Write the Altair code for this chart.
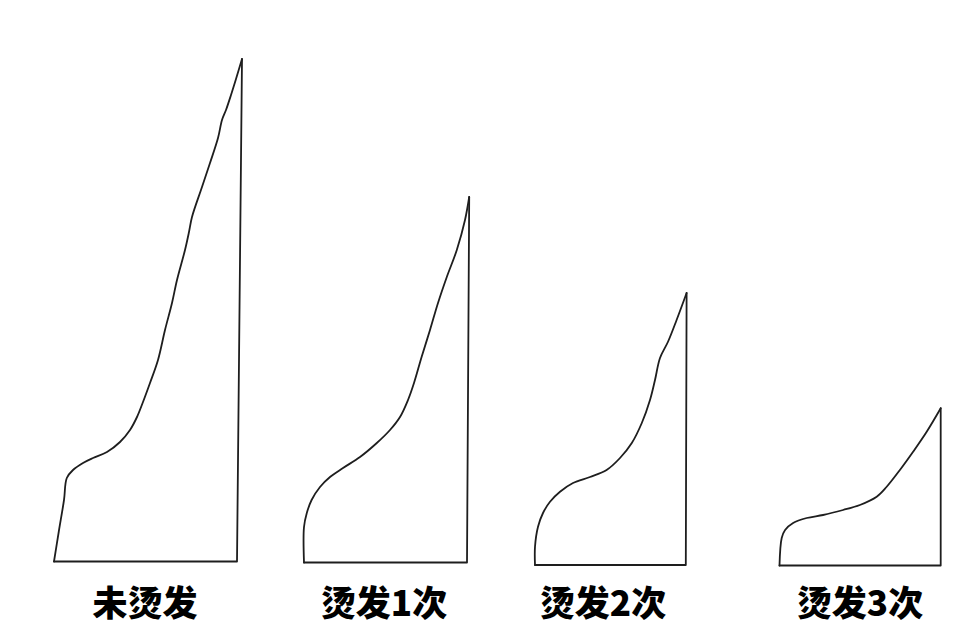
import altair as alt
import pandas as pd

# ---------------- data ----------------
labels = ["未烫发", "烫发1次", "烫发2次", "烫发3次"]

strain_0 = [0, 1.2, 2.5, 3.2, 4.75, 7.25, 9.75, 13.25, 16.5, 19, 20.75, 22.25, 24, 26,
            27.75, 29.5, 30.75, 32.75, 33.75, 34.5, 37, 39, 41, 42, 43, 44.25, 45.5, 47]
stress_0 = [0, 12, 24.6, 33.4, 36.6, 39.4, 41.4, 43.8, 47.8, 52.6, 57.8, 63.8, 71.4, 80.6,
            92.6, 103.4, 112.6, 124.6, 131.8, 137.8, 149.8, 159.4, 169.4, 176.6, 180.6, 186.6, 193, 201]

strain_1 = [0, 0, 0.7, 1.9, 4, 6.5, 9.75, 14, 18.2, 21.5, 24, 26, 27.5, 29.4, 31.5, 33.5,
            35.7, 38.2, 40.25, 41.3]
stress_1 = [0, 14.2, 19.8, 25, 30.2, 34.2, 37.8, 42.2, 47.8, 53, 58.2, 65, 71.8, 82.2, 93, 103.8,
            114.2, 125, 137, 146.2]

strain_2 = [0, 0, 0.75, 2, 3.75, 6.25, 9.5, 13.75, 17.9, 21.25, 24.2, 26.7, 28.75, 30, 31.25,
            33.25, 35.4, 37.9]
stress_2 = [0, 7.3, 15.3, 20.8, 25.3, 29.3, 32.8, 35.2, 38, 42.8, 48.8, 56.8, 66, 74, 82.8,
            89.3, 98, 108.8]

strain_3 = [0, 0.55, 1.4, 3.4, 6.8, 10.9, 15.9, 20.1, 24.3, 26.8, 30.1, 33.4, 36.8, 40.3]
stress_3 = [0, 11, 14.2, 17, 19, 20.2, 22.2, 24.2, 27.5, 31.5, 38.2, 45.5, 53.5, 62.9]

# strain where the fibre breaks (vertical drop to zero stress)
break_strain = [45.75, 40.75, 37.7, 40.3]

strains = [strain_0, strain_1, strain_2, strain_3]
stresses = [stress_0, stress_1, stress_2, stress_3]

# ---------------- layout / style ----------------
PX_X = 4.0      # pixels per strain unit
PX_Y = 2.5      # pixels per stress unit
H = 620
panel_edges = [8, 272, 500, 733, 966]
shape_left = [54, 304, 535, 779.5]
shape_base = [561.5, 562.5, 565, 565.5]
label_cx = [145, 384, 603, 860]
label_cy = 605
LINE = "#1e1e1e"
FONT = "Noto Sans CJK SC"

panels = []
for i in range(4):
    curve = pd.DataFrame({"strain": strains[i], "stress": stresses[i],
                          "idx": range(len(strains[i]))})
    frame = pd.DataFrame({"strain": [strains[i][-1], break_strain[i], 0],
                          "stress": [stresses[i][-1], 0, 0], "idx": [0, 1, 2]})

    left, right = panel_edges[i], panel_edges[i + 1]
    w = right - left
    xdom = [(left - shape_left[i]) / PX_X, (right - shape_left[i]) / PX_X]
    base_panel = shape_base[i] - 8
    ydom = [(base_panel - H) / PX_Y, base_panel / PX_Y]

    enc = dict(
        x=alt.X("strain:Q", scale=alt.Scale(domain=xdom, nice=False, zero=False), axis=None),
        y=alt.Y("stress:Q", scale=alt.Scale(domain=ydom, nice=False, zero=False), axis=None),
        order=alt.Order("idx:Q"),
    )
    c_line = alt.Chart(curve).mark_line(color=LINE, strokeWidth=1.8, strokeJoin="round",
                                        strokeCap="round", interpolate="catmull-rom").encode(**enc)
    f_line = alt.Chart(frame).mark_line(color=LINE, strokeWidth=1.8, strokeJoin="round",
                                        strokeCap="round").encode(**enc)
    txt = alt.Chart(pd.DataFrame({"label": [labels[i]]})).mark_text(
        font=FONT, fontSize=35, fontWeight=900, color="#000",
        align="center", baseline="middle",
    ).encode(
        text="label:N",
        x=alt.value(label_cx[i] - left),
        y=alt.value(label_cy - 8),
    )
    panels.append(alt.layer(c_line, f_line, txt).properties(width=w, height=H))

chart = alt.hconcat(*panels, spacing=0).properties(padding=0).configure_view(stroke=None)

chart.save("out.html", embed_options={"renderer": "svg", "actions": False})
